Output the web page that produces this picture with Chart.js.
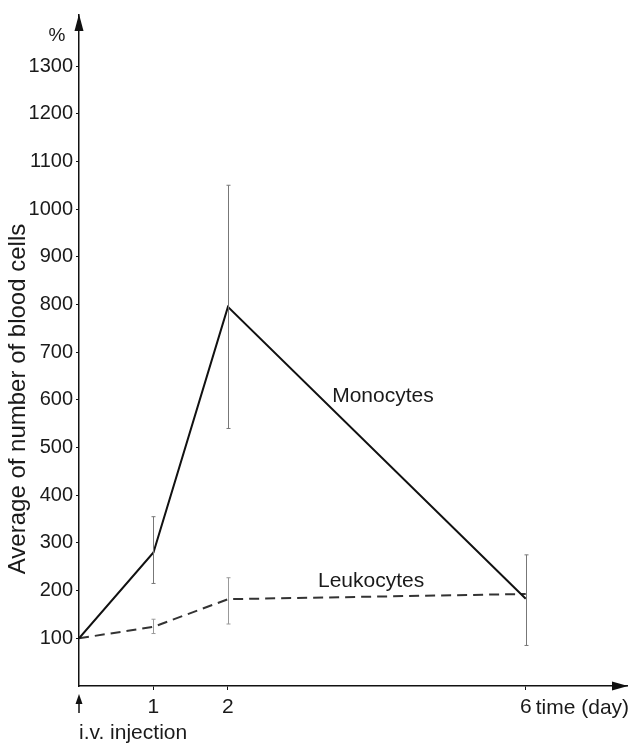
<!DOCTYPE html>
<html>
<head>
<meta charset="utf-8">
<script src="https://cdn.jsdelivr.net/npm/chart.js@4/dist/chart.umd.min.js"></script>
<style>
html,body{margin:0;padding:0;background:#fff;}
canvas{display:block;}
</style>
</head>
<body>
<canvas id="c" width="636" height="746"></canvas>
<script>
// ---- data ----
const days = [0, 1, 2, 6];
const monocytes = [100, 280, 795, 183];
const monoLow  = [null, 215, 540, 85];
const monoHigh = [null, 355, 1050, 275];
const leukocytes = [100, 124, 182, 193];
const leukoLow  = [null, 110, 130, null];
const leukoHigh = [null, 140, 227, null];
const yTicks = [100,200,300,400,500,600,700,800,900,1000,1100,1200,1300];
const xTicks = [1, 2, 6];
const seriesLabels = [
  {text: 'Monocytes', x: 3.40, y: 608},
  {text: 'Leukocytes', x: 3.21, y: 219}
];

const TXT = '"Liberation Sans", Arial, sans-serif';

const pts = (xs, ys) => xs.map((d, i) => ({x: d, y: ys[i]}));

const extras = {
  id: 'extras',
  afterDatasetsDraw(chart) {
    const ctx = chart.ctx;
    const xs = chart.scales.x, ys = chart.scales.y;
    const ca = chart.chartArea;
    ctx.save();
    // error bars
    function bars(lo, hi, color) {
      ctx.strokeStyle = color;
      ctx.lineWidth = 1;
      days.forEach((d, i) => {
        if (lo[i] == null) return;
        const px = Math.round(xs.getPixelForValue(d)) + 0.5;
        const y1 = ys.getPixelForValue(lo[i]);
        const y2 = ys.getPixelForValue(hi[i]);
        ctx.beginPath();
        ctx.moveTo(px, y1); ctx.lineTo(px, y2);
        ctx.moveTo(px - 2, y1); ctx.lineTo(px + 2, y1);
        ctx.moveTo(px - 2, y2); ctx.lineTo(px + 2, y2);
        ctx.stroke();
      });
    }
    bars(monoLow, monoHigh, '#777');
    bars(leukoLow, leukoHigh, '#999');

    // axis arrows
    ctx.fillStyle = '#111';
    const ax = ca.left;
    ctx.beginPath();
    ctx.moveTo(ax, ca.top - 1);
    ctx.lineTo(ax - 4.5, ca.top + 16);
    ctx.lineTo(ax + 4.5, ca.top + 16);
    ctx.closePath(); ctx.fill();
    const ay = ca.bottom;
    ctx.beginPath();
    ctx.moveTo(ca.right + 1, ay);
    ctx.lineTo(ca.right - 15, ay - 4.5);
    ctx.lineTo(ca.right - 15, ay + 4.5);
    ctx.closePath(); ctx.fill();
    // injection arrow below x axis
    ctx.beginPath();
    ctx.moveTo(ax, ay + 8);
    ctx.lineTo(ax - 3.5, ay + 18);
    ctx.lineTo(ax + 3.5, ay + 18);
    ctx.closePath(); ctx.fill();
    ctx.strokeStyle = '#111'; ctx.lineWidth = 1.5;
    ctx.beginPath(); ctx.moveTo(ax, ay + 16); ctx.lineTo(ax, ay + 27); ctx.stroke();

    // texts
    ctx.fillStyle = '#1a1a1a';
    ctx.textBaseline = 'middle';
    ctx.font = '19px ' + TXT;
    ctx.textAlign = 'center';
    ctx.fillText('%', 57, 36);

    ctx.font = '21px ' + TXT;
    ctx.textAlign = 'left';
    ctx.fillText('time (day)', xs.getPixelForValue(6) + 10, 708);
    ctx.fillText('i.v. injection', ax, 733);

    seriesLabels.forEach(l => {
      ctx.fillText(l.text, xs.getPixelForValue(l.x), ys.getPixelForValue(l.y));
    });

    // y axis title
    ctx.save();
    ctx.translate(18, 399);
    ctx.rotate(-Math.PI / 2);
    ctx.textAlign = 'center';
    ctx.font = '24px ' + TXT;
    ctx.fillText('Average of number of blood cells', 0, 0);
    ctx.restore();

    ctx.restore();
  }
};

new Chart(document.getElementById('c'), {
  type: 'scatter',
  data: {
    datasets: [
      {
        label: 'Monocytes',
        data: pts(days, monocytes),
        showLine: true,
        borderColor: '#111',
        borderWidth: 2,
        pointRadius: 0,
        tension: 0
      },
      {
        label: 'Leukocytes',
        data: pts(days, leukocytes),
        showLine: true,
        borderColor: '#333',
        borderWidth: 2,
        borderDash: [10, 6],
        pointRadius: 0,
        tension: 0
      }
    ]
  },
  options: {
    responsive: false,
    animation: false,
    devicePixelRatio: 1,
    layout: {padding: {top: 6, right: 9, left: 0, bottom: 0}},
    plugins: {legend: {display: false}, tooltip: {enabled: false}},
    scales: {
      x: {
        type: 'linear',
        min: 0,
        max: 7.36,
        afterBuildTicks: s => { s.ticks = xTicks.map(v => ({value: v})); },
        afterFit: s => { s.height = 60; },
        grid: {drawOnChartArea: false, tickLength: 4, color: '#111', tickWidth: 1},
        border: {display: true, color: '#111', width: 1.5},
        ticks: {color: '#1a1a1a', font: {family: TXT, size: 21}, padding: 5, maxRotation: 0,
                callback: v => String(v)}
      },
      y: {
        type: 'linear',
        min: 0,
        max: 1407,
        afterBuildTicks: s => { s.ticks = yTicks.map(v => ({value: v})); },
        afterFit: s => { s.width = 79; },
        grid: {drawOnChartArea: false, tickLength: 3, color: '#111', tickWidth: 1},
        border: {display: true, color: '#111', width: 1.5},
        ticks: {color: '#1a1a1a', font: {family: TXT, size: 20}, padding: 3,
                callback: v => String(v)}
      }
    }
  },
  plugins: [extras]
});
</script>
</body>
</html>
